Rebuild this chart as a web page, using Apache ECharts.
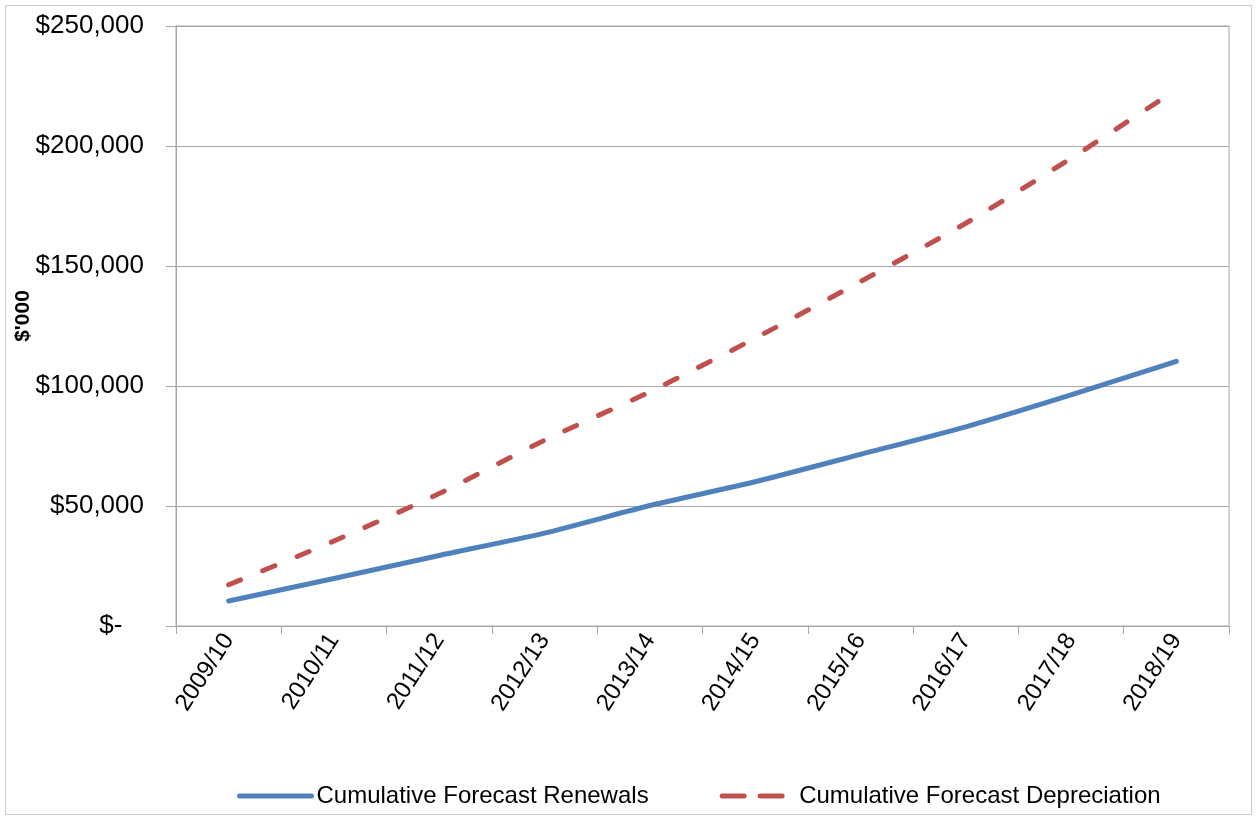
<!DOCTYPE html>
<html>
<head>
<meta charset="utf-8">
<title>Cumulative Forecast Renewals vs Depreciation</title>
<script src="https://cdn.jsdelivr.net/npm/echarts@6/dist/echarts.min.js"></script>
<style>
  html, body { margin: 0; padding: 0; background: #ffffff; }
  #chart { width: 1257px; height: 821px; }
</style>
</head>
<body>
<div id="chart"></div>
<script>
// Financial years on the category axis
const years = ['2009/10', '2010/11', '2011/12', '2012/13', '2013/14',
               '2014/15', '2015/16', '2016/17', '2017/18', '2018/19'];

// Cumulative values in $'000
const renewals = [10400, 19800, 29400, 38700, 50200, 60100, 71500, 83000, 96300, 110300];
const depreciation = [17200, 35400, 55200, 77400, 97600, 119900, 143500, 167800, 194900, 223500];

// Value axis ticks
const yMin = 0;
const yMax = 250000;
const yStep = 50000;

const seriesNames = ['Cumulative Forecast Renewals', 'Cumulative Forecast Depreciation'];

const FONT = '"Liberation Sans", Arial, sans-serif';
const GRID_GREY = '#a6a6a6';
const BLUE = '#4F81BD';
const RED = '#C0504D';
const DASH = [13, 24];

function money(v) {
  if (v === 0) return '$-   ';
  return '$' + v.toLocaleString('en-US');
}

const chart = echarts.init(document.getElementById('chart'), null, { renderer: 'canvas' });

chart.setOption({
  backgroundColor: '#ffffff',
  animation: false,
  textStyle: { fontFamily: FONT, color: '#000000' },
  graphic: [
    {
      type: 'rect',
      shape: { x: 5.5, y: 5.5, width: 1246, height: 809 },
      style: { fill: null, stroke: '#c8c8c8', lineWidth: 1 },
      silent: true
    },
    {
      type: 'text',
      x: 23,
      y: 316,
      rotation: Math.PI / 2,
      style: {
        text: "$'000",
        font: 'bold 21px ' + FONT,
        fill: '#000000',
        align: 'center',
        verticalAlign: 'middle'
      }
    }
  ],
  grid: {
    left: 176,
    right: 28,
    top: 26,
    bottom: 195,
    show: true,
    borderColor: GRID_GREY,
    borderWidth: 1,
    containLabel: false
  },
  legend: {
    left: 237,
    top: 784,
    padding: 0,
    itemWidth: 72,
    itemHeight: 28,
    itemGap: 71,
    itemStyle: { opacity: 0 },
    textStyle: { fontFamily: FONT, fontSize: 24, color: '#000000' },
    data: [
      { name: seriesNames[0], itemStyle: { opacity: 0 }, lineStyle: { color: BLUE, width: 5, cap: 'round' } },
      { name: seriesNames[1], itemStyle: { opacity: 0 }, lineStyle: { color: RED, width: 5, type: [22, 16], cap: 'round' } }
    ]
  },
  xAxis: {
    type: 'category',
    data: years,
    boundaryGap: true,
    axisLine: { show: true, lineStyle: { color: GRID_GREY, width: 1 } },
    axisTick: { show: true, length: 8, alignWithLabel: false, lineStyle: { color: GRID_GREY } },
    axisLabel: {
      rotate: 57,
      fontSize: 24,
      fontFamily: FONT,
      color: '#000000',
      margin: 10,
      interval: 0
    },
    splitLine: { show: false }
  },
  yAxis: {
    type: 'value',
    min: yMin,
    max: yMax,
    interval: yStep,
    axisLine: { show: true, lineStyle: { color: GRID_GREY, width: 1 } },
    axisTick: { show: true, length: 10, lineStyle: { color: GRID_GREY } },
    axisLabel: {
      fontSize: 26,
      fontFamily: FONT,
      color: '#000000',
      margin: 32,
      formatter: money
    },
    splitLine: { show: true, lineStyle: { color: GRID_GREY, width: 1 } }
  },
  series: [
    {
      name: seriesNames[0],
      type: 'line',
      data: renewals,
      smooth: 0.2,
      symbol: 'none',
      color: BLUE,
      lineStyle: { color: BLUE, width: 5, cap: 'round', join: 'round' }
    },
    {
      name: seriesNames[1],
      type: 'line',
      data: depreciation,
      smooth: 0.2,
      symbol: 'none',
      color: RED,
      lineStyle: { color: RED, width: 5, type: DASH, cap: 'round', join: 'round' }
    }
  ]
});
</script>
</body>
</html>
